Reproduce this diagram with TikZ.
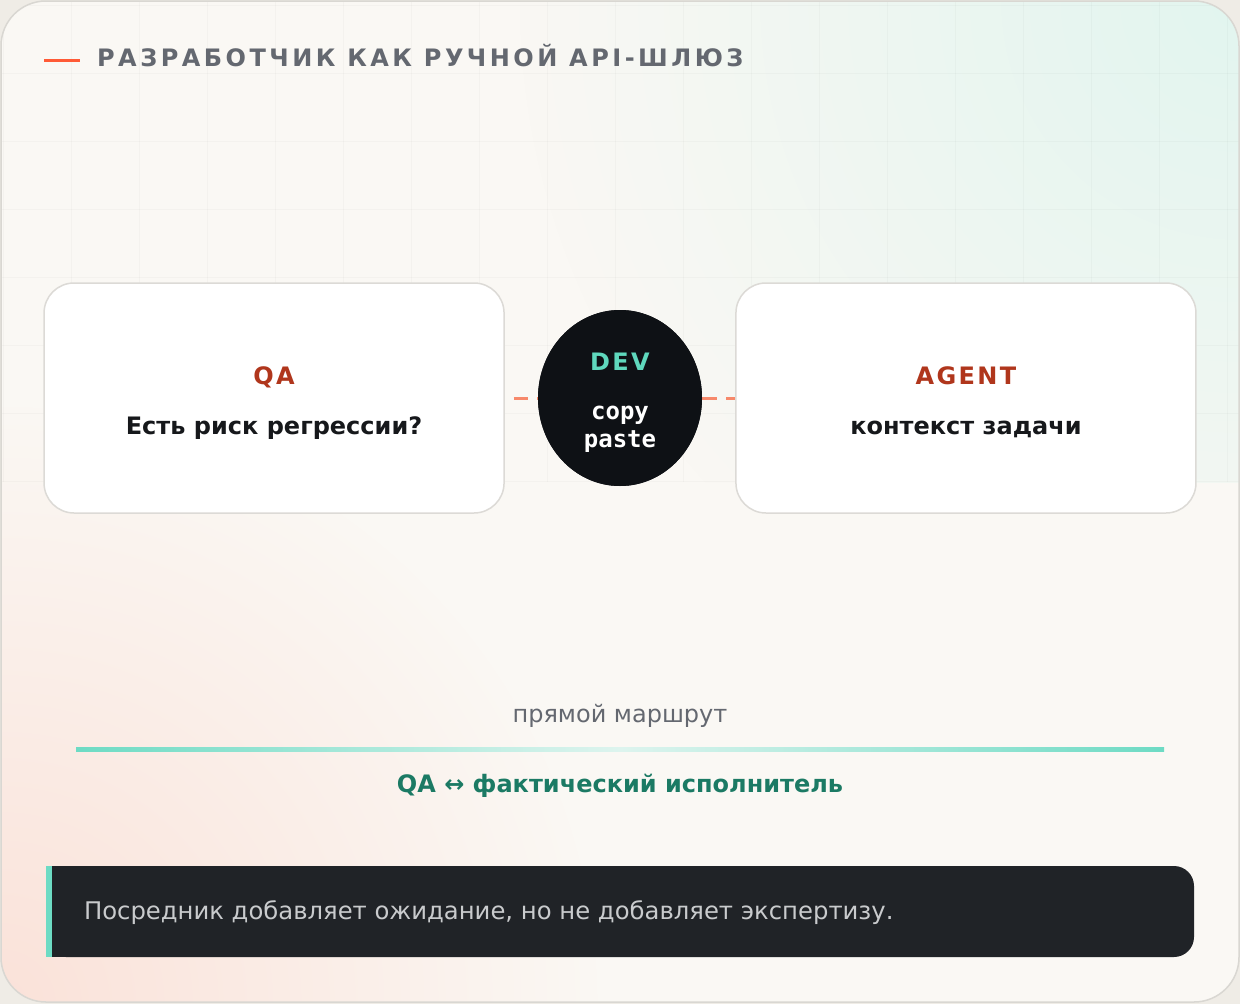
\documentclass[tikz,border=0pt]{standalone}
\usepackage{fontspec}
\setmainfont{DejaVu Sans}
\newfontfamily\codefont{DejaVu Sans Mono}
\usetikzlibrary{positioning,fadings,shapes.geometric}

\definecolor{pagebg}{HTML}{EFECE6}
\definecolor{cardbg}{HTML}{FAF8F4}
\definecolor{cardline}{HTML}{D9D7D2}
\definecolor{boxline}{HTML}{DCDAD6}
\definecolor{mint}{HTML}{6DDBC4}
\definecolor{mintpale}{HTML}{DDF4EE}
\definecolor{mintsoft}{HTML}{E2F5EF}
\definecolor{rosesoft}{HTML}{FAE2D9}
\definecolor{coral}{HTML}{F7896B}
\definecolor{accent}{HTML}{FF5A36}
\definecolor{rust}{HTML}{B0361C}
\definecolor{slate}{HTML}{646870}
\definecolor{ink}{HTML}{16181B}
\definecolor{night}{HTML}{0E1115}
\definecolor{devmint}{HTML}{5FD8BD}
\definecolor{routegreen}{HTML}{1B7A64}
\definecolor{notebg}{HTML}{202327}
\definecolor{notetext}{HTML}{C9CBCD}

\tikzfading[name=glowfade, inner color=transparent!0, outer color=transparent!100]

\tikzset{
    card/.style={
        draw=boxline, line width=1.5pt, fill=white,
        rounded corners=30pt,
        minimum width=460pt, minimum height=230pt
    },
    role/.style={
        text=rust, anchor=base,
        font=\bfseries\fontsize{24}{28}\selectfont\addfontfeature{LetterSpace=10}
    },
    ask/.style={
        text=ink, anchor=base,
        font=\bfseries\fontsize{24}{28}\selectfont
    },
    link/.style={
        draw=coral, line width=3pt
    },
    devball/.style={
        ellipse, fill=night, minimum width=164pt, minimum height=176pt, inner sep=0pt
    },
    code/.style={
        text=white, anchor=base,
        font=\codefont\bfseries\fontsize{24}{28}\selectfont
    }
}

\begin{document}
\begin{tikzpicture}[x=1pt, y=-1pt]

\useasboundingbox (0,0) rectangle (1240,1004);

% ===============================
%         card background
% ===============================

\fill[pagebg] (0,0) rectangle (1240,1004);
\fill[cardbg, rounded corners=45pt] (1,1) rectangle (1239,1002);

\begin{scope}
    \clip[rounded corners=45pt] (1,1) rectangle (1239,1002);
    \fill[rosesoft, path fading=glowfade] (0,1004) circle (600);
    \begin{scope}
        \clip (0,0) rectangle (1240,482);
        \fill[mintsoft, path fading=glowfade] (1240,0) circle (720);
        \foreach \gx in {3,71,...,1240}
            \draw[black, opacity=0.025, line width=1pt] (\gx,0) -- (\gx,482);
        \foreach \gy in {5,73,...,482}
            \draw[black, opacity=0.025, line width=1pt] (0,\gy) -- (1240,\gy);
    \end{scope}
\end{scope}

\draw[cardline, line width=1.5pt, rounded corners=45pt] (1,1) rectangle (1239,1002);

% ===============================
%              title
% ===============================

\coordinate (tick) at (44,60);
\draw[accent, line width=3pt] (tick) -- ++(36,0);
\node[anchor=base west, inner sep=0pt, text=slate,
      font=\bfseries\fontsize{24}{28}\selectfont\addfontfeature{LetterSpace=14.5}]
    (title) at (97,66) {РАЗРАБОТЧИК КАК РУЧНОЙ API-ШЛЮЗ};

% ===============================
%          QA / DEV / AGENT
% ===============================

\node[devball] (dev) at (620,398) {};
\node[card, left=33pt of dev] (qabox) {};
\node[card, right=33pt of dev] (agentbox) {};

\draw[link, dash pattern=on 14pt off 9pt, dash phase=14pt] (qabox.east) -- (dev.west);
\draw[link, dash pattern=on 15pt off 9pt] (dev.east) -- (agentbox.west);
\node[devball] at (dev) {};

\node[role] (qa) at ([yshift=14pt]qabox.center) {QA};
\node[ask] (qaask) at ([yshift=-36pt]qabox.center) {Есть риск регрессии?};

\node[role] (agent) at ([yshift=14pt]agentbox.center) {AGENT};
\node[ask] (agentask) at ([yshift=-36pt]agentbox.center) {контекст задачи};

\node[role, text=devmint] (devname) at ([yshift=28pt]dev.center) {DEV};
\node[code] (copy) at ([yshift=-21pt]dev.center) {copy};
\node[code] (paste) at ([yshift=-49pt]dev.center) {paste};

% ===============================
%          direct route
% ===============================

\node[text=slate, anchor=base, font=\fontsize{24}{28}\selectfont] (routelabel) at (620,722) {прямой маршрут};
\shade[left color=mint, right color=mint, middle color=mintpale] (76,747.5) rectangle (1164,751);
\node[text=routegreen, anchor=base, font=\bfseries\fontsize{24}{28}\selectfont] (route) at (620,792)
    {QA ↔ фактический исполнитель};

% ===============================
%              note
% ===============================

\node[fill=notebg, rounded corners=20pt, minimum width=1148pt, minimum height=91pt,
      inner sep=0pt] (note) at (620,911.5) {};
\fill[notebg] (note.north west) rectangle ([xshift=60pt]note.south west);
\fill[mint] (note.north west) rectangle ([xshift=6pt]note.south west);
\node[anchor=base west, text=notetext, inner sep=0pt, font=\fontsize{24.3}{28}\selectfont]
    (notetxt) at ([xshift=38pt, yshift=-8pt]note.west) {Посредник добавляет ожидание, но не добавляет экспертизу.};

\end{tikzpicture}
\end{document}
